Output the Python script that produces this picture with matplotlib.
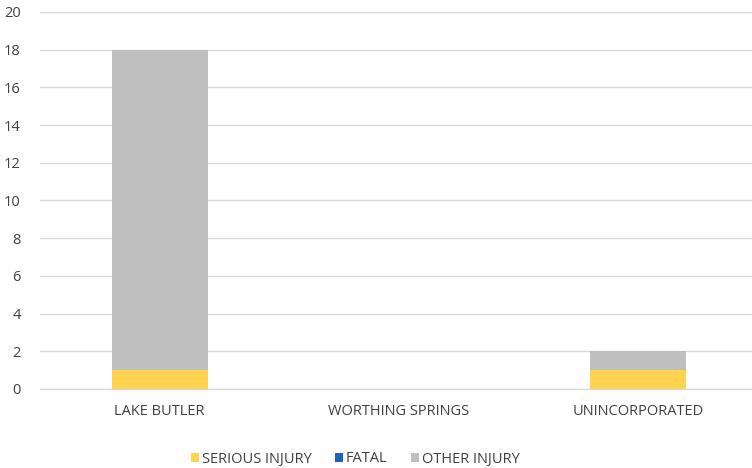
import matplotlib

matplotlib.use("Agg")
import matplotlib.pyplot as plt
import numpy as np

categories = ["LAKE BUTLER", "WORTHING SPRINGS", "UNINCORPORATED"]
serious = [1, 0, 1]
fatal = [0, 0, 0]
other = [17, 0, 1]

series = [
    ("SERIOUS INJURY", serious, "#FFD34F"),
    ("FATAL", fatal, "#1F64B0"),
    ("OTHER INJURY", other, "#BFBFBF"),
]

plt.rcParams["font.family"] = ["Open Sans", "DejaVu Sans"]
text_color = "#404040"
fs = 10.5

fig = plt.figure(figsize=(7.52, 4.68), dpi=100)
# plot area runs slightly past the right edge, as in the source
ax = fig.add_axes([40 / 752, 79 / 468, 718 / 752, 377 / 468])

x = np.arange(len(categories))
bottom = np.zeros(len(categories))
for label, values, color in series:
    ax.bar(x, values, width=0.4, bottom=bottom, color=color, label=label, zorder=3)
    bottom += np.array(values)

ax.set_xlim(-0.5, len(categories) - 0.5)
ax.set_ylim(0, 20)
ax.set_yticks(range(0, 21, 2))
ax.set_xticks(x)
ax.set_xticklabels(categories)
ax.grid(axis="y", color="#D9D9D9", linewidth=1.0, zorder=0)
for side in ["top", "right", "left"]:
    ax.spines[side].set_visible(False)
ax.spines["bottom"].set_color("#D9D9D9")
ax.spines["bottom"].set_linewidth(1.0)
ax.tick_params(axis="both", length=0, colors=text_color, labelsize=fs)
ax.tick_params(axis="y", pad=14)
ax.tick_params(axis="x", pad=11)

fig.legend(
    loc="center",
    bbox_to_anchor=(355 / 752, 1 - 459 / 468),
    ncol=3,
    frameon=False,
    fontsize=fs,
    labelcolor=text_color,
    handlelength=0.6,
    handleheight=0.6,
    handletextpad=0.15,
    columnspacing=1.6,
)

fig.savefig("out.png", dpi=100)
